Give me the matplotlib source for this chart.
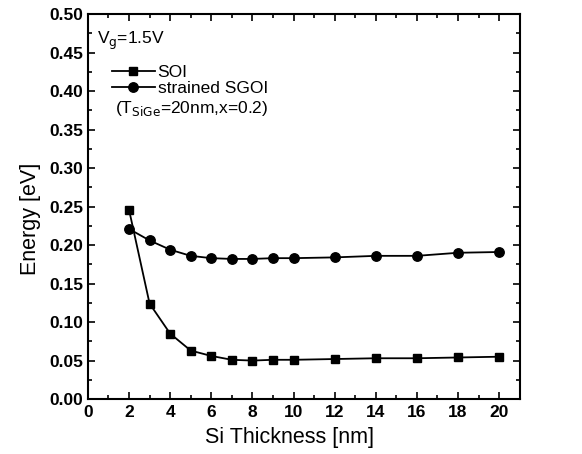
import numpy as np
import matplotlib.pyplot as plt
from matplotlib.ticker import MultipleLocator

plt.rcParams['font.family'] = ['Liberation Sans', 'DejaVu Sans']

thickness = [2, 3, 4, 5, 6, 7, 8, 9, 10, 12, 14, 16, 18, 20]
soi = [0.246, 0.124, 0.085, 0.063, 0.056, 0.051, 0.050, 0.051, 0.051, 0.052, 0.053, 0.053, 0.054, 0.055]
sgoi = [0.221, 0.206, 0.194, 0.186, 0.183, 0.182, 0.182, 0.183, 0.183, 0.184, 0.186, 0.186, 0.190, 0.191]

fig = plt.figure(figsize=(5.82, 4.54), dpi=100)
ax = fig.add_axes([0.151, 0.121, 0.742, 0.848])

ax.plot(thickness, soi, color='black', marker='s', markersize=6.3, lw=1.3, label='SOI')
ax.plot(thickness, sgoi, color='black', marker='o', markersize=6.8, lw=1.3, label='strained SGOI')

ax.set_xlim(0, 21)
ax.set_ylim(0, 0.5)
ax.xaxis.set_major_locator(MultipleLocator(2))
ax.xaxis.set_minor_locator(MultipleLocator(1))
ax.yaxis.set_major_locator(MultipleLocator(0.05))
ax.yaxis.set_minor_locator(MultipleLocator(0.025))
ax.yaxis.set_major_formatter(plt.FormatStrFormatter('%.2f'))
ax.tick_params(which='both', direction='in', top=True, right=True, width=1.2)
ax.tick_params(which='major', length=5, labelsize=12.5)
ax.tick_params(which='minor', length=3)
ax.tick_params(axis='x', which='major', pad=4.5)
ax.tick_params(axis='y', which='major', pad=3.5)
for lbl in ax.get_xticklabels() + ax.get_yticklabels():
    lbl.set_fontweight('bold')
for sp in ax.spines.values():
    sp.set_linewidth(1.5)

ax.set_xlabel('Si Thickness [nm]', fontsize=15.5)
ax.set_ylabel('Energy [eV]', fontsize=15.5)
ax.xaxis.set_label_coords(0.468, -0.072)
ax.yaxis.set_label_coords(-0.108, 0.467)

leg = ax.legend(loc='upper left', bbox_to_anchor=(0.055, 0.867), frameon=False,
                fontsize=12.5, handlelength=2.5, handletextpad=0.15,
                labelspacing=0.0, borderaxespad=0, borderpad=0)
ax.text(0.021, 0.922, r'V$_{\mathrm{g}}$=1.5V', transform=ax.transAxes,
        fontsize=12.5, va='baseline')
ax.text(0.063, 0.743, r'(T$_{\mathrm{SiGe}}$=20nm,x=0.2)', transform=ax.transAxes,
        fontsize=12.5, va='baseline')

fig.savefig('out.png', dpi=100)
